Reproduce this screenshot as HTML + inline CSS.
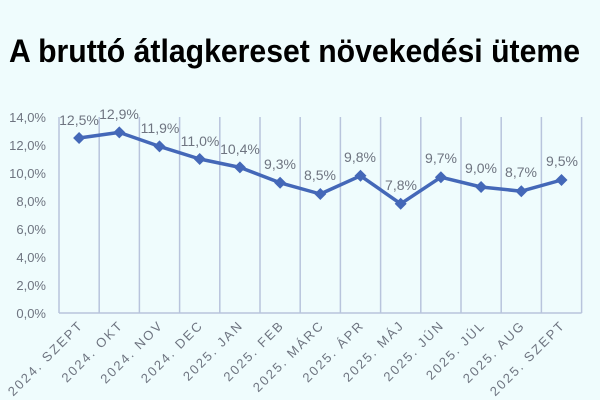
<!DOCTYPE html>
<html><head><meta charset="utf-8"><style>
body{margin:0;background:#effcfd;}
svg{display:block}
</style></head><body>
<svg width="600" height="400" viewBox="0 0 600 400" xmlns="http://www.w3.org/2000/svg">
<rect width="600" height="400" fill="#effcfd"/>
<text x="9" y="62" font-family="Liberation Sans, sans-serif" font-weight="bold" font-size="32" fill="#000" textLength="571" lengthAdjust="spacingAndGlyphs">A bruttó átlagkereset növekedési üteme</text>
<g stroke="#b8c4dc" stroke-width="1.5">
<line x1="59" y1="117" x2="59" y2="313"/>
<line x1="99.2" y1="117" x2="99.2" y2="313"/>
<line x1="139.4" y1="117" x2="139.4" y2="313"/>
<line x1="179.6" y1="117" x2="179.6" y2="313"/>
<line x1="219.8" y1="117" x2="219.8" y2="313"/>
<line x1="260" y1="117" x2="260" y2="313"/>
<line x1="300.2" y1="117" x2="300.2" y2="313"/>
<line x1="340.4" y1="117" x2="340.4" y2="313"/>
<line x1="380.6" y1="117" x2="380.6" y2="313"/>
<line x1="420.8" y1="117" x2="420.8" y2="313"/>
<line x1="461" y1="117" x2="461" y2="313"/>
<line x1="501.2" y1="117" x2="501.2" y2="313"/>
<line x1="541.4" y1="117" x2="541.4" y2="313"/>
<line x1="581.6" y1="117" x2="581.6" y2="313"/>
<line x1="59" y1="313" x2="581.6" y2="313"/>
</g>
<g font-family="Liberation Sans, sans-serif" font-size="13" fill="#6e7480" text-anchor="end">
<text x="46" y="318">0,0%</text>
<text x="46" y="290">2,0%</text>
<text x="46" y="262">4,0%</text>
<text x="46" y="234">6,0%</text>
<text x="46" y="206">8,0%</text>
<text x="46" y="178">10,0%</text>
<text x="46" y="150">12,0%</text>
<text x="46" y="122">14,0%</text>
</g>
<polyline fill="none" stroke="#4468b8" stroke-width="3.5" stroke-linejoin="round" points="79.1,138 119.3,132.4 159.5,146.4 199.7,159 239.9,167.4 280.1,182.8 320.3,194 360.5,175.8 400.7,203.8 440.9,177.2 481.1,187 521.3,191.2 561.5,180"/>
<g fill="#4468b8">
<path d="M79.1,132l6,6-6,6-6-6z"/><path d="M119.3,126.4l6,6-6,6-6-6z"/><path d="M159.5,140.4l6,6-6,6-6-6z"/><path d="M199.7,153l6,6-6,6-6-6z"/><path d="M239.9,161.4l6,6-6,6-6-6z"/><path d="M280.1,176.8l6,6-6,6-6-6z"/><path d="M320.3,188l6,6-6,6-6-6z"/><path d="M360.5,169.8l6,6-6,6-6-6z"/><path d="M400.7,197.8l6,6-6,6-6-6z"/><path d="M440.9,171.2l6,6-6,6-6-6z"/><path d="M481.1,181l6,6-6,6-6-6z"/><path d="M521.3,185.2l6,6-6,6-6-6z"/><path d="M561.5,174l6,6-6,6-6-6z"/>
</g>
<g font-family="Liberation Sans, sans-serif" font-size="14" fill="#6e7480" text-anchor="middle">
<text x="79" y="125">12,5%</text><text x="119" y="119">12,9%</text><text x="160" y="133">11,9%</text><text x="200" y="146">11,0%</text><text x="240" y="154">10,4%</text><text x="280" y="169">9,3%</text><text x="320" y="180">8,5%</text><text x="360" y="162">9,8%</text><text x="401" y="190">7,8%</text><text x="441" y="163">9,7%</text><text x="481" y="173">9,0%</text><text x="521" y="177">8,7%</text><text x="562" y="166">9,5%</text>
</g>
<g font-family="Liberation Sans, sans-serif" font-size="13" fill="#6e7480" text-anchor="end" letter-spacing="2">
<text transform="translate(84,326) rotate(-45)">2024. SZEPT</text>
<text transform="translate(124,326) rotate(-45)">2024. OKT</text>
<text transform="translate(164,326) rotate(-45)">2024. NOV</text>
<text transform="translate(204,326) rotate(-45)">2024. DEC</text>
<text transform="translate(244,326) rotate(-45)">2025. JAN</text>
<text transform="translate(285,326) rotate(-45)">2025. FEB</text>
<text transform="translate(325,326) rotate(-45)">2025. MÁRC</text>
<text transform="translate(365,326) rotate(-45)">2025. ÁPR</text>
<text transform="translate(405,326) rotate(-45)">2025. MÁJ</text>
<text transform="translate(445,326) rotate(-45)">2025. JÚN</text>
<text transform="translate(486,326) rotate(-45)">2025. JÚL</text>
<text transform="translate(526,326) rotate(-45)">2025. AUG</text>
<text transform="translate(566,326) rotate(-45)">2025. SZEPT</text>
</g>
</svg>
</body></html>
